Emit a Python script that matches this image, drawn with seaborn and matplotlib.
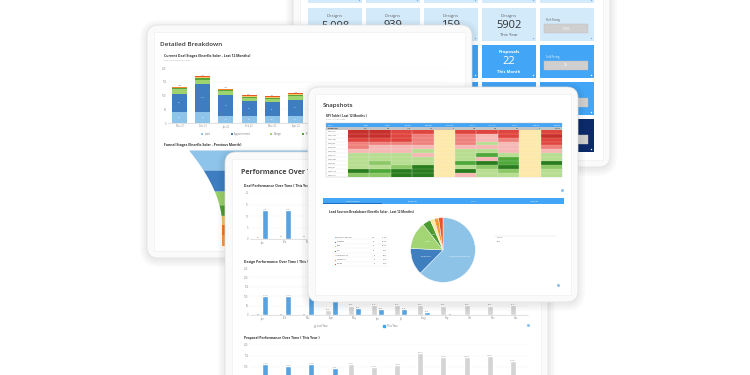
import numpy as np
import pandas as pd
import seaborn as sns
import matplotlib.pyplot as plt
from matplotlib.patches import FancyBboxPatch, Rectangle, Patch
from matplotlib.colors import ListedColormap

W, H = 750, 375

# ---------------- data ----------------
# KPI tiles (back tablet)
kpi_design_values = ["5,098", "939", "159", "5902"]
kpi_design_periods = ["All Time", "This Quarter", "This Month", "This Year"]
kpi_proposal_value = "22"
pacing_labels = ["Shift Pacing", "Sold Pacing", "Install Pacing", "PTO Pacing"]
pacing_values = ["7,356", "10", "4", "2"]

# Current deal stages, last 12 months (stacked bars)
db_months = ["Nov 21", "Dec 21", "Jan 22", "Feb 22", "Mar 22", "Apr 22",
             "May 22", "Jun 22", "Jul 22", "Aug 22", "Sep 22", "Oct 22"]
db_stages = ["Lead", "Appointment", "Design", "Proposal", "Contract", "Permit", "Install"]
db_lead = [39, 40, 27, 24, 24, 27, 30, 28, 26, 31, 29, 25]
db_appt = [68, 102, 76, 55, 51, 56, 60, 64, 58, 62, 57, 50]
db_design = [15, 15, 12, 12, 12, 15, 13, 14, 12, 14, 13, 11]
db_proposal = [5, 7, 4, 4, 4, 4, 5, 4, 5, 4, 4, 3]
db_contract = [2, 2, 2, 2, 2, 2, 3, 2, 2, 2, 2, 2]
db_permit = [2, 2, 2, 2, 2, 2, 2, 2, 3, 2, 2, 2]
db_install = [1.5, 1.5, 1.5, 1.5, 1.5, 1.5, 1.5, 2, 1.5, 1.5, 1.5, 1.5]

# Funnel stages, previous month
funnel_stages = ["Lead", "Appointment", "Design", "Proposal", "Contract", "Permit", "Install"]
funnel_counts = [190, 200, 130, 100, 90, 100, 100]

# Performance over time (this year vs last year)
perf_months = ["Jan", "Feb", "Mar", "Apr", "May", "Jun",
               "Jul", "Aug", "Sep", "Oct", "Nov", "Dec"]
deal_last = [0.4, 0.6, 0.5, 3.5, 4.5, 5.0, 4.0, 6.5, 6.0, 5.5, 6.0, 5.0]
deal_this = [12.6, 12.4, 12.1, 9.0, 7.0, 6.0, 5.5, 4.0, 0.0, np.nan, np.nan, np.nan]
design_last = [0, 0, 0, 27, 50, 51, 53, 52, 49, 52, 50, 51]
design_this = [101, 101, 125, 85, 37, 32, 31, 16, 0, np.nan, np.nan, np.nan]
proposal_last = [0, 0, 0, 35, 113, 100, 109, 161, 143, 143, 148, 126]
proposal_this = [113, 104, 113, 96, 45, 38, 30, 22, 0, np.nan, np.nan, np.nan]

# KPI table, last 12 months (score: -4 worst ... +4 best, 0 neutral)
kpi_months = ["2021 Oct", "2021 Nov", "2021 Dec", "2022 Jan", "2022 Feb", "2022 Mar",
              "2022 Apr", "2022 May", "2022 Jun", "2022 Jul", "2022 Aug", "2022 Sep"]
kpi_cols = ["Leads", "Appts", "Designs", "Proposals", "Cancelled",
            "Signed", "Financed", "Permits", "Pending", "Revenue"]
kpi_totals = ["3,131", "960", "1,156", "259", "0", "384", "305", "218", "0", "213,488"]
kpi_scores = [
    [-4, -4, -3, -3, 0, -3, -3, -3, 0, -3],
    [-4, -4, -3, -2, 0, -2, -1, -3, 0, -4],
    [-3, -3, -3, -2, 0, -2, -1, -2, 0, -3],
    [-2, -2, -2, -2, 0, -2, 1, -1, 0, -3],
    [-2, -1, -1, -1, 0, -1, -1, -1, 0, -2],
    [-1, -1, -1, 1, 0, 1, 1, -1, 0, -1],
    [1, 1, 1, -1, 0, 1, 3, 1, 0, 1],
    [1, 1, 1, 1, 0, 1, -1, 3, 0, 1],
    [1, 2, 1, 1, 0, 3, 4, 3, 0, 4],
    [1, 1, 2, 4, 0, 1, 2, 4, 0, 2],
    [4, 3, 4, 4, 0, 4, 1, 2, 0, 1],
    [2, 2, 4, 4, 0, -1, 1, 1, 0, 1],
]

# Lead sources breakdown
lead_sources = ["Customer Referral", "Facebook", "Lead", "SEO",
                "Website Form", "Canvassing", "Google"]
lead_counts = [255, 55, 56, 17, 8, 9, 9]
snapshot_tabs = ["Lead Source", "Financier", "Utility", "Installer"]

# ---------------- style ----------------
BLUE = "#42a5f5"
GRAY_BAR = "#d4d4d4"
stack_colors = ["#8ec3ea", "#3d7dc0", "#9dd46e", "#58a63a", "#f8c36b", "#f0832c", "#e85a24"]
funnel_colors = ["#8ec3ea", "#3d7dc0", "#98d06a", "#4e9e33", "#f7c06a", "#ef7a2a", "#f29a4c"]
pie_colors = ["#8ec3e8", "#3f7fbf", "#a3d575", "#4b9b30", "#fbe7a1", "#f39c34", "#e8552a"]
heat_colors = ["#c62f2a", "#e0443e", "#ef7f7a", "#f6b8b4", "#fde9a9",
               "#b7de90", "#8cc865", "#4fa83a", "#2a7d1e"]

sns.set_style("white")
plt.rcParams["font.family"] = ["Open Sans", "DejaVu Sans"]

fig = plt.figure(figsize=(W / 100, H / 100), dpi=100)
fig.patch.set_facecolor("white")


def canvas(z):
    ax = fig.add_axes([0, 0, 1, 1], zorder=z)
    ax.set_xlim(0, W)
    ax.set_ylim(H, 0)
    ax.axis("off")
    return ax


def px_axes(x0, y0, x1, y1, z):
    ax = fig.add_axes([x0 / W, 1 - y1 / H, (x1 - x0) / W, (y1 - y0) / H], zorder=z)
    ax.patch.set_alpha(0)
    return ax


def tablet(ax, x0, y0, x1, y1, r=11, bezel=7):
    w, h = x1 - x0, y1 - y0
    for g in (8, 6, 4, 2):
        ax.add_patch(FancyBboxPatch((x0 - g + 1, y0 - g + 3), w + 2 * g - 2, h + 2 * g - 2,
                                    boxstyle=f"round,pad=0,rounding_size={r + g}",
                                    fc="black", ec="none", alpha=0.02))
    ax.add_patch(FancyBboxPatch((x0, y0), w, h, boxstyle=f"round,pad=0,rounding_size={r}",
                                fc="#fafafa", ec="#e0e0e0", lw=0.5))
    ax.add_patch(Rectangle((x0 + bezel, y0 + bezel), w - 2 * bezel, h - 2 * bezel,
                           fc="white", ec="#ededed", lw=0.4))


def chart_style(ax, yticks):
    ax.set_yticks(yticks)
    ax.set_ylim(yticks[0], yticks[-1])
    ax.set_xlabel("")
    ax.set_ylabel("")
    ax.tick_params(length=0, labelsize=1.8, colors="#888", pad=1)
    for s in ("left", "top", "right"):
        ax.spines[s].set_visible(False)
    ax.spines["bottom"].set_color("#cccccc")
    ax.spines["bottom"].set_linewidth(0.4)
    ax.yaxis.grid(True, color="#f2f2f2", lw=0.3)
    ax.set_axisbelow(True)


def on_screen(ax, yval, margin=6):
    # pixel height above the bottom edge of the figure
    return ax.transData.transform((0, yval))[1] > margin


def gear(ax, x, y):
    ax.plot(x, y, marker="o", ms=2.2, color="#90c2ee", mec="none")


# ---------------- back tablet: KPI tiles ----------------
c1 = canvas(1)
tablet(c1, 293, -40, 610, 167)
tile_rows = [-30, 8, 45, 82, 119]
tile_fill = [
    ["#d3eafb"] * 5,
    ["#d3eafb"] * 5,
    [BLUE] * 5,
    [BLUE] * 5,
    [BLUE, BLUE, BLUE, BLUE, "#0c2a6a"],
]
for r, ty in enumerate(tile_rows):
    for c in range(5):
        tx = 308 + c * 58
        c1.add_patch(Rectangle((tx, ty), 54, 33, fc=tile_fill[r][c], ec="none"))
        dot = "#7fb3e3" if r < 2 else "white"
        c1.plot(tx + 51, ty + 30, marker="o", ms=1.0, color=dot, mec="none")

for c, (val, per) in enumerate(zip(kpi_design_values, kpi_design_periods)):
    cx = 308 + c * 58 + 27
    c1.text(cx, 16, "Designs", ha="center", va="center", fontsize=3.2, color="#666")
    c1.text(cx, 26, val, ha="center", va="center", fontsize=8, color="#333")
    c1.text(cx, 35.5, per, ha="center", va="center", fontsize=3, color="#555")

cx = 308 + 3 * 58 + 27
c1.text(cx, 52, "Proposals", ha="center", va="center", fontsize=3.2, color="white", weight="bold")
c1.text(cx, 62, kpi_proposal_value, ha="center", va="center", fontsize=8, color="white")
c1.text(cx, 72, "This Month", ha="center", va="center", fontsize=3, color="white", weight="bold")

for r, (lab, val) in enumerate(zip(pacing_labels, pacing_values)):
    ty = tile_rows[r + 1]
    c1.text(546, ty + 12, lab, ha="left", va="center", fontsize=1.8,
            color="#555" if r == 0 else "white")
    c1.add_patch(Rectangle((544, ty + 16), 44, 8.5, fc="#cfcfcf", ec="#bdbdbd", lw=0.3))
    c1.text(566, ty + 20.3, val, ha="center", va="center", fontsize=2.4, color="white")

# ---------------- tablet 2: Detailed Breakdown ----------------
c2 = canvas(2)
tablet(c2, 147, 25, 472, 258)
c2.text(160, 44, "Detailed Breakdown", fontsize=4.6, weight="semibold", color="#3a3a3a", va="center")
c2.text(164, 56.5, "Current Deal Stages (Enerflo Solar - Last 12 Months)", fontsize=2.4,
        weight="bold", color="#333", va="center")
c2.text(164, 60.5, "Click on a column to drill down", fontsize=1.4, color="#999", va="center")
c2.text(164, 145, "Funnel Stages (Enerflo Solar - Previous Month)", fontsize=2.4,
        weight="bold", color="#333", va="center")

ax = px_axes(168, 68, 446, 123, 2.1)
db_values = [db_lead, db_appt, db_design, db_proposal, db_contract, db_permit, db_install]
x = np.arange(len(db_months))
bottom = np.zeros(len(x))
for name, vals, col in zip(db_stages, db_values, stack_colors):
    v = np.array(vals, float)
    ax.bar(x, v, bottom=bottom, width=0.65, color=col, label=name, lw=0)
    if name in ("Lead", "Appointment"):
        for xi, vi, bi in zip(x, v, bottom):
            ax.text(xi, bi + vi / 2, f"{vi:.0f}", ha="center", va="center",
                    fontsize=1.5, color="white")
    bottom += v
for xi, t in zip(x, bottom):
    ax.text(xi, t + 2, f"{t:.0f}", ha="center", va="bottom", fontsize=1.6, color="#555")
ax.set_xticks(x)
ax.set_xticklabels(db_months)
ax.set_xlim(-0.5, len(x) - 0.5)
chart_style(ax, [0, 50, 100, 150, 200])
ax.legend(ncol=len(db_stages), loc="upper center", bbox_to_anchor=(0.5, -0.12),
          fontsize=1.8, frameon=False, handlelength=0.7, handleheight=0.7,
          columnspacing=8, labelcolor="#777")

# funnel: band heights follow the stage counts
ax = px_axes(155, 150, 460, 246, 2.1)
total = sum(funnel_counts)
ax.set_xlim(-152.5, 152.5)
ax.set_ylim(total, 0)
ax.axis("off")
top = 0
for cnt, col in zip(funnel_counts, funnel_colors):
    yy = np.linspace(top, top + cnt, 25)
    t = yy / total
    hw = 86 + 33 * np.clip(1 - t / 0.75, 0, None) ** 1.8
    ax.fill_betweenx(yy, -hw, hw, color=col, lw=0)
    top += cnt

# ---------------- tablet 3: Performance Over Time ----------------
c3 = canvas(3)
tablet(c3, 225, 152, 548, 430)
c3.text(241, 173, "Performance Over Time", fontsize=5, weight="bold", color="#444", va="center")
perf_palette = {"Last Year": GRAY_BAR, "This Year": BLUE}
perf_charts = [
    ("Deal Performance Over Time ( This Year )", deal_last, deal_this, 186, 193, 239, [0, 5, 10, 15, 20]),
    ("Design Performance Over Time ( This Year )", design_last, design_this, 262, 268, 315,
     [0, 50, 100, 150, 200, 250]),
    ("Proposal Performance Over Time ( This Year )", proposal_last, proposal_this, 338, 344, 390,
     [0, 50, 100, 150, 200]),
]
for title, last, this, ty, y0, y1, yt in perf_charts:
    c3.text(244, ty, title, fontsize=2.4, weight="bold", color="#333", va="center")
    df = pd.DataFrame({"month": perf_months * 2,
                       "period": ["Last Year"] * 12 + ["This Year"] * 12,
                       "value": list(last) + list(this)})
    ax = px_axes(250, y0, 528, y1, 3.1)
    sns.barplot(data=df, x="month", y="value", hue="period", order=perf_months,
                hue_order=["Last Year", "This Year"], palette=perf_palette,
                width=0.6, gap=0.12, errorbar=None, legend=False, ax=ax)
    chart_style(ax, yt)
    ax.set_xlim(-0.5, 11.5)
    for cont in ax.containers:
        for ann in ax.bar_label(cont, fmt="%.1f", fontsize=1.5, color="#777", padding=0.3):
            if not on_screen(ax, ann.xy[1]):
                ann.remove()
    if y1 > H:
        # chart runs past the bottom of the picture: keep only visible labels
        ax.set_yticks([v for v in yt if on_screen(ax, v)])
        ax.set_ylim(yt[0], yt[-1])
        ax.tick_params(labelbottom=False)
        continue
    ax.legend(handles=[Patch(color=GRAY_BAR), Patch(color=BLUE)],
              labels=["Last Year", "This Year"], ncol=2, loc="upper center",
              bbox_to_anchor=(0.38, -0.14), fontsize=1.8, frameon=False,
              handlelength=0.7, handleheight=0.7, columnspacing=22, labelcolor="#777")
gear(c3, 528, 325)

# ---------------- tablet 4: Snapshots ----------------
c4 = canvas(4)
tablet(c4, 308, 87, 578, 302)
c4.text(323, 105, "Snapshots", fontsize=4.4, weight="semibold", color="#333", va="center")
c4.text(326, 115.5, "KPI Table ( Last 12 Months )", fontsize=2.2, weight="bold", color="#333", va="center")
c4.text(326, 119.2, "Click a cell to drill down", fontsize=1.3, color="#999", va="center")

col_w = (562 - 348) / len(kpi_cols)
c4.add_patch(Rectangle((326, 123), 236, 4.2, fc=BLUE, ec="none"))
c4.add_patch(Rectangle((326, 127.2), 236, 2.5, fc="#c4c4c4", ec="none"))
c4.text(327.5, 125.1, "Month", fontsize=1.3, color="white", va="center")
c4.text(327.5, 128.5, "Grand Total", fontsize=1.2, color="#333", va="center", weight="bold")
for i, (name, tot) in enumerate(zip(kpi_cols, kpi_totals)):
    xr = 348 + (i + 1) * col_w - 1
    c4.text(xr, 125.1, name, fontsize=1.3, color="white", va="center", ha="right")
    c4.text(xr, 128.5, tot, fontsize=1.2, color="#333", va="center", ha="right")

ax = px_axes(348, 129.7, 562, 177, 4.1)
heat_df = pd.DataFrame(kpi_scores, index=kpi_months, columns=kpi_cols)
sns.heatmap(heat_df, cmap=ListedColormap(heat_colors), vmin=-4.5, vmax=4.5, cbar=False,
            linewidths=0, xticklabels=False, yticklabels=False, ax=ax)
for i in range(1, len(kpi_months)):
    ax.axhline(i, color="white", lw=0.15, alpha=0.8)
for j in range(1, len(kpi_cols)):
    ax.axvline(j, color="#e8e8e8", lw=0.25)

ax = px_axes(326, 129.7, 348, 177, 4.1)
ax.set_xlim(0, 1)
ax.set_ylim(len(kpi_months), 0)
ax.axis("off")
for i, m in enumerate(kpi_months):
    ax.text(0.07, i + 0.5, m, fontsize=1.3, color="#555", va="center")
    if i:
        ax.axhline(i, color="#dddddd", lw=0.2)
c4.add_patch(Rectangle((326, 123), 236, 54, fc="none", ec="#bdbdbd", lw=0.3))
gear(c4, 562, 190)

# tabs
c4.add_patch(Rectangle((323, 198), 241, 6.3, fc=BLUE, ec="none"))
c4.add_patch(Rectangle((323, 203.3), 59, 1.0, fc="#1e6fc0", ec="none"))
tab_w = 241 / len(snapshot_tabs)
for i, tab in enumerate(snapshot_tabs):
    c4.text(323 + (i + 0.5) * tab_w, 201, tab, fontsize=1.7, color="white", ha="center", va="center")

c4.text(329, 212, "Lead Sources Breakdown (Enerflo Solar - Last 12 Months)", fontsize=2.2,
        weight="bold", color="#333", va="center")

# pie
ax = px_axes(410, 217, 476, 283, 4.1)
lead_total = sum(lead_counts)
pie_labels = [s if c / lead_total > 0.03 else "" for s, c in zip(lead_sources, lead_counts)]
ax.pie(lead_counts, colors=pie_colors, startangle=90, counterclock=False,
       labels=pie_labels, labeldistance=0.55,
       textprops=dict(fontsize=1.7, color="white", ha="center"),
       wedgeprops=dict(edgecolor="white", linewidth=0.3))
ax.set_xlim(-1.02, 1.02)
ax.set_ylim(-1.02, 1.02)
ax.set_aspect("equal")

# legend table beside the pie
for i, (s, cnt, col) in enumerate(zip(lead_sources, lead_counts, pie_colors)):
    yy = 237 + i * 4.5
    c4.plot(334.5, yy, marker="o", ms=0.9, color=col, mec="none")
    c4.text(336.5, yy, s, fontsize=1.4, color="#555", va="center")
    c4.text(375, yy, f"{cnt}", fontsize=1.4, color="#555", va="center", ha="right")
    c4.text(387, yy, f"{cnt / lead_total * 100:.1f}%", fontsize=1.4, color="#555", va="center", ha="right")
    c4.plot([332, 389], [yy + 2.2, yy + 2.2], color="#eeeeee", lw=0.3)
c4.plot([495, 556], [235.5, 235.5], color="#dddddd", lw=0.3)
c4.text(497, 238, "Total", fontsize=1.6, color="#555", va="center")
c4.text(497, 242, f"{lead_total}", fontsize=1.6, color="#555", va="center")
gear(c4, 558, 285)

fig.savefig("out.png", dpi=100)
